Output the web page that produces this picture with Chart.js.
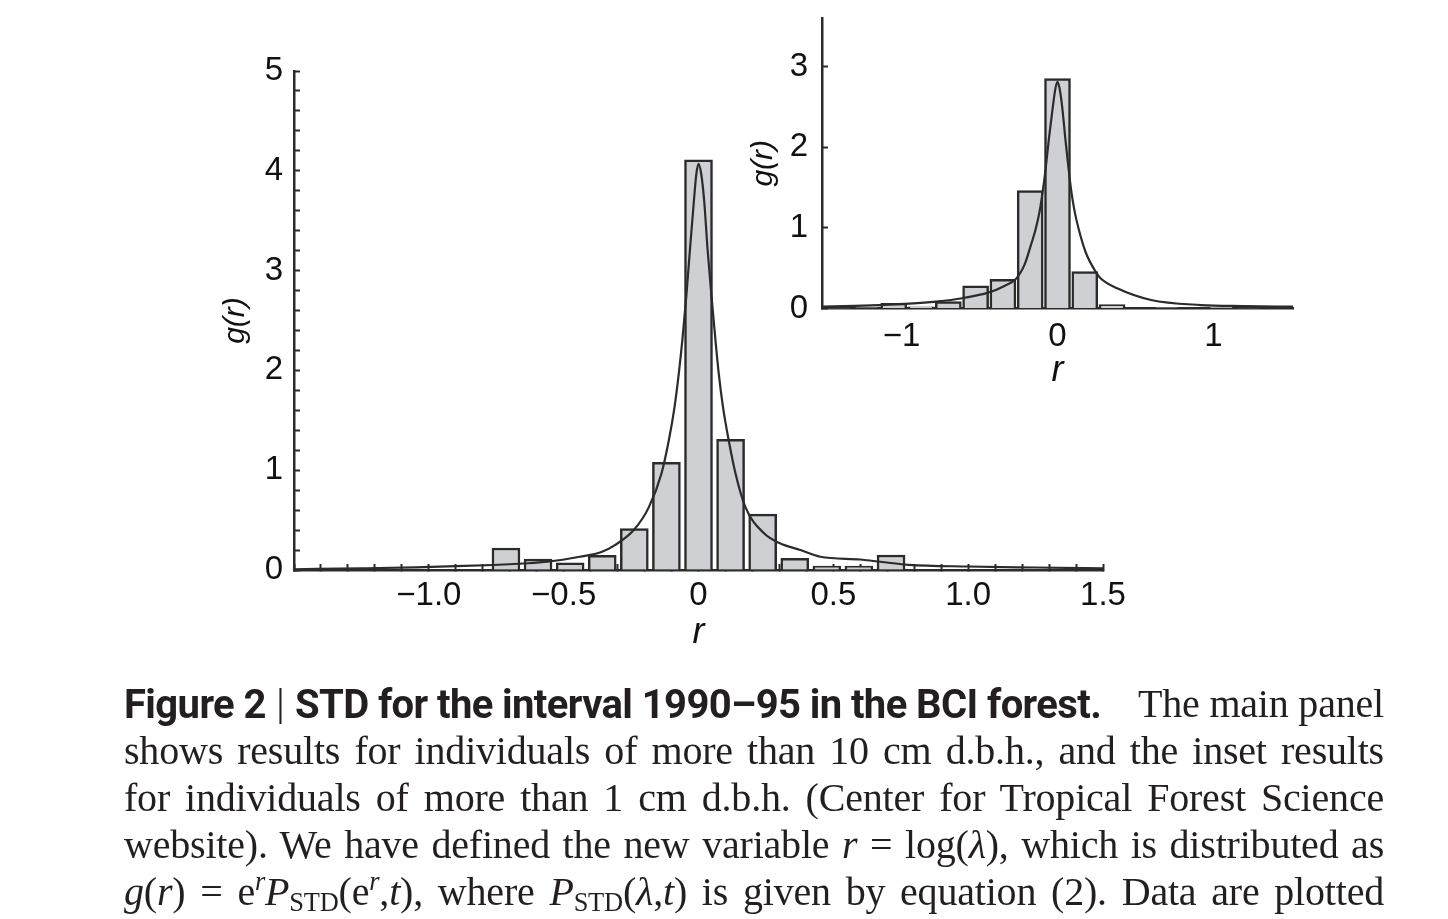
<!DOCTYPE html>
<html>
<head>
<meta charset="utf-8">
<title>STD for the interval 1990-95 in the BCI forest</title>
<script src="https://cdn.jsdelivr.net/npm/chart.js@4.4.1/dist/chart.umd.min.js"></script>
<style>
  html, body { margin: 0; padding: 0; background: #fff; }
  body { width: 1448px; height: 919px; position: relative; overflow: hidden; }
  #mainBox { position: absolute; left: 0; top: 0; width: 1448px; height: 680px; }
  #insetBox { position: absolute; left: 700px; top: -22px; width: 640px; height: 442px; }
  .caption {
    position: absolute; left: 124px; top: 680px; width: 1260px;
    font-family: 'Liberation Serif', 'DejaVu Serif', serif;
    font-size: 40px; line-height: 47px; letter-spacing: -0.2px; color: #231f20;
  }
  .caption .ln { height: 47px; text-align: justify; text-align-last: justify; }
  .caption .first { display: flex; justify-content: space-between; text-align: left; text-align-last: auto; }
  .caption b { font-family: Roboto, 'Liberation Sans', sans-serif; font-weight: 700; font-size: 40px; letter-spacing: -0.6px; }
  .caption .pipe { font-family: Roboto, sans-serif; font-weight: 300; font-size: 42px; }
  .caption sup, .caption sub { font-size: 0.66em; line-height: 0; }
  .caption sup { vertical-align: 0.55em; }
  .caption sub { vertical-align: -0.22em; }
</style>
</head>
<body>
<div id="mainBox"><canvas id="mainChart"></canvas></div>
<div id="insetBox"><canvas id="insetChart"></canvas></div>

<div class="caption">
  <div class="ln first"><span><b>Figure 2</b><span class="pipe"> | </span><b>STD for the interval 1990–95 in the BCI forest.</b></span><span>The main panel</span></div>
  <div class="ln">shows results for individuals of more than 10 cm d.b.h., and the inset results</div>
  <div class="ln">for individuals of more than 1 cm d.b.h. (Center for Tropical Forest Science</div>
  <div class="ln">website). We have defined the new variable <i>r</i> = log(<i>λ</i>), which is distributed as</div>
  <div class="ln"><i>g</i>(<i>r</i>) = e<sup><i>r</i></sup><i>P</i><sub>STD</sub>(e<sup><i>r</i></sup>,<i>t</i>), where <i>P</i><sub>STD</sub>(<i>λ</i>,<i>t</i>) is given by equation (2). Data are plotted</div>
</div>

<script>
    // main panel: trees > 10 cm d.b.h.
    var mainBinR = [-0.714, -0.595, -0.476, -0.357, -0.238, -0.119, 0, 0.119, 0.238, 0.357, 0.476, 0.595, 0.714];
    var mainBinG = [0.22, 0.11, 0.073, 0.147, 0.415, 1.08, 4.11, 1.31, 0.56, 0.117, 0.04, 0.04, 0.15];
    var mainFitR = [-1.5, -1.25, -1.05, -0.9, -0.76, -0.65, -0.56, -0.44, -0.36, -0.31, -0.24, -0.184, -0.137, -0.11, -0.089, -0.073, -0.06, -0.045, -0.032, -0.017, -0.008, 0,
                    0.01, 0.021, 0.034, 0.048, 0.063, 0.075, 0.091, 0.112, 0.137, 0.174, 0.242, 0.3, 0.378, 0.452, 0.6, 0.78, 1.0, 1.25, 1.5];
    var mainFitG = [0.007, 0.017, 0.027, 0.038, 0.05, 0.065, 0.083, 0.133, 0.18, 0.25, 0.4, 0.63, 0.97, 1.3, 1.63, 1.97, 2.3, 2.75, 3.2, 3.7, 3.97, 4.07,
                    3.97, 3.7, 3.2, 2.75, 2.3, 1.97, 1.63, 1.3, 0.97, 0.63, 0.37, 0.27, 0.2, 0.133, 0.105, 0.052, 0.035, 0.025, 0.017];
    var mainXTicks = [-1.0, -0.5, 0, 0.5, 1.0, 1.5];
    var mainYTicks = [0, 1, 2, 3, 4, 5];

    // inset: trees > 1 cm d.b.h.
    var insetBinR = [-1.4, -1.225, -1.05, -0.875, -0.7, -0.525, -0.35, -0.175, 0, 0.175, 0.35, 0.525, 0.7, 0.875, 1.05, 1.225, 1.4];
    var insetBinG = [0.005, 0.01, 0.065, 0.02, 0.085, 0.28, 0.36, 1.46, 2.85, 0.457, 0.05, 0, 0.01, 0, 0.015, 0.005, 0];
    var insetFitR = [-1.51, -1.3, -1.14, -0.95, -0.78, -0.61, -0.44, -0.34, -0.265, -0.21, -0.173, -0.141, -0.115, -0.094, -0.075, -0.056, -0.03, -0.012, 0,
                     0.012, 0.03, 0.051, 0.07, 0.088, 0.11, 0.137, 0.18, 0.244, 0.276, 0.383, 0.6, 0.92, 1.2, 1.51];
    var insetFitG = [0.022, 0.032, 0.043, 0.06, 0.085, 0.127, 0.2, 0.28, 0.37, 0.55, 0.77, 0.975, 1.2, 1.46, 1.75, 2.09, 2.5, 2.74, 2.81,
                     2.74, 2.5, 2.09, 1.75, 1.46, 1.2, 0.975, 0.7, 0.457, 0.375, 0.25, 0.105, 0.043, 0.03, 0.022];
    var insetXTicks = [-1, 0, 1];
    var insetYTicks = [0, 1, 2, 3];

    var ink = '#2b2b2b';
    var barFill = '#cfd0d3';
    var sans = "'Liberation Sans', Arial, Helvetica, sans-serif";

    function pts(xs, ys) {
        return xs.map(function (x, i) { return { x: x, y: ys[i] }; });
    }

    // label only the listed values, with a real minus sign
    function tickText(list, digits) {
        return function (v) {
            for (var i = 0; i < list.length; i++) {
                if (Math.abs(v - list[i]) < 1e-6) {
                    var t = list[i] === 0 ? '0' : Math.abs(list[i]).toFixed(digits);
                    return (list[i] < 0 ? '\u2212' : '') + t;
                }
            }
            return '';
        };
    }

    function axis(o) {
        return {
            type: 'linear',
            min: o.min,
            max: o.max,
            offset: false,
            afterFit: function (s) {
                if (o.width) s.width = o.width;
                if (o.height) s.height = o.height;
            },
            border: { display: true, color: ink, width: 2.5 },
            grid: {
                offset: false,
                drawOnChartArea: false,
                drawTicks: o.drawTicks,
                tickLength: -6,
                tickWidth: 2,
                tickColor: ink
            },
            ticks: {
                stepSize: o.step,
                autoSkip: false,
                maxRotation: 0,
                minRotation: 0,
                includeBounds: o.bounds,
                padding: o.pad,
                color: '#111',
                font: { family: sans, size: 33 },
                callback: tickText(o.labels, o.digits)
            },
            title: {
                display: true,
                text: o.title,
                color: '#111',
                font: { family: sans, size: o.titleSize, style: 'italic' },
                padding: o.titlePad
            }
        };
    }

    function histo(id, binR, binG, fitR, fitG, thickness, pad, xAxis, yAxis) {
        return new Chart(document.getElementById(id), {
            type: 'bar',
            data: {
                datasets: [{
                    type: 'line',
                    data: pts(fitR, fitG),
                    borderColor: ink,
                    borderWidth: 2.2,
                    pointRadius: 0,
                    fill: false,
                    cubicInterpolationMode: 'monotone',
                    order: 0
                }, {
                    type: 'bar',
                    data: pts(binR, binG),
                    backgroundColor: barFill,
                    borderColor: ink,
                    borderWidth: 2.5,
                    barThickness: thickness,
                    order: 1
                }]
            },
            options: {
                responsive: true,
                maintainAspectRatio: false,
                animation: false,
                layout: { padding: pad },
                plugins: { legend: { display: false }, tooltip: { enabled: false } },
                scales: { x: xAxis, y: yAxis }
            }
        });
    }

    //Main panel//
    histo('mainChart', mainBinR, mainBinG, mainFitR, mainFitG, 28,
        { left: 214, right: 345, top: 71, bottom: 10 },
        axis({ min: -1.5, max: 1.5, step: 0.1, height: 100, drawTicks: true, bounds: true, pad: 12,
               labels: mainXTicks, digits: 1, title: 'r', titleSize: 36, titlePad: { top: 0, bottom: 15 } }),
        axis({ min: 0, max: 5, step: 0.2, width: 80, drawTicks: true, bounds: true, pad: 17,
               labels: mainYTicks, digits: 0, title: 'g(r)', titleSize: 30, titlePad: { top: 4, bottom: 0 } }));

    //Inset//
    histo('insetChart', insetBinR, insetBinG, insetFitR, insetFitG, 26,
        { left: 42, right: 47, top: 40, bottom: 11.5 },
        axis({ min: -1.51, max: 1.51, step: 1, height: 100, drawTicks: false, bounds: false, pad: 9,
               labels: insetXTicks, digits: 0, title: 'r', titleSize: 36, titlePad: { top: 0, bottom: 16 } }),
        axis({ min: 0, max: 3.6, step: 1, width: 80, drawTicks: true, bounds: false, pad: 20,
               labels: insetYTicks, digits: 0, title: 'g(r)', titleSize: 30, titlePad: { top: 4, bottom: 0 } }));
</script>
</body>
</html>
